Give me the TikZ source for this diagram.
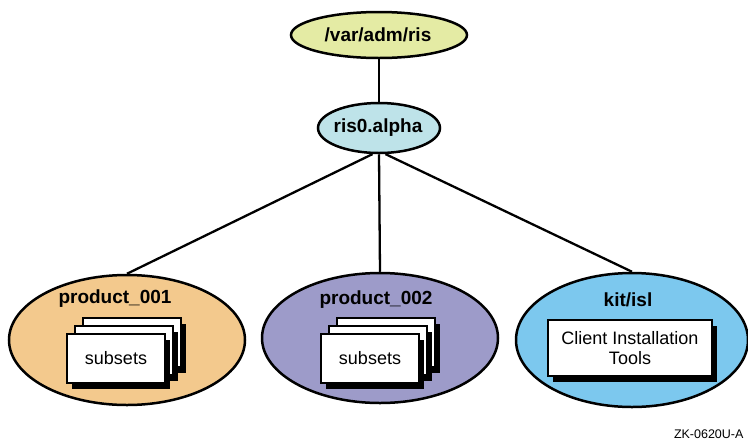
\documentclass[tikz,border=0pt]{standalone}
\usepackage{fontspec}
\setmainfont{Liberation Sans}
\usetikzlibrary{shapes.geometric,shadows}
\definecolor{varfill}{HTML}{E4EBA4}
\definecolor{risfill}{HTML}{BEE3E9}
\definecolor{prodone}{HTML}{F3C98D}
\definecolor{prodtwo}{HTML}{9D9BC9}
\definecolor{kitfill}{HTML}{7CC8EE}
\tikzset{
  dirnode/.style={ellipse, draw, line width=2.5pt, inner sep=0pt},
  dirlabel/.style={font=\fontsize{19}{21}\selectfont\bfseries},
  sheet/.style={draw, line width=1.2pt, fill=white, inner sep=0pt,
    minimum width=98pt, minimum height=49pt,
    font=\fontsize{18}{20}\selectfont,
    drop shadow={shadow xshift=5pt, shadow yshift=-6pt, opacity=1, fill=black}},
  link/.style={line width=2.3pt}
}
\begin{document}
\begin{tikzpicture}[x=1pt,y=-1pt]
    \useasboundingbox (0,0) rectangle (748,440);
    % directories
    \node[dirnode, fill=varfill, minimum width=176pt, minimum height=46pt] (var) at (379,35) {};
    \node[dirnode, fill=risfill, minimum width=122pt, minimum height=50pt] (ris) at (379,128) {};
    \node[dirnode, fill=prodone, minimum width=236pt, minimum height=130pt] (p1) at (127,340) {};
    \node[dirnode, fill=prodtwo, minimum width=236pt, minimum height=130pt] (p2) at (380,338) {};
    \node[dirnode, fill=kitfill, minimum width=232pt, minimum height=134pt] (kit) at (632,340) {};
    \node[dirlabel] (varlbl) at (378,35) {/var/adm/ris};
    \node[dirlabel] (rislbl) at (378,128) {ris0.alpha};
    \node[dirlabel] (p1lbl) at (115,299) {product\_001};
    \node[dirlabel] (p2lbl) at (376,300) {product\_002};
    \node[dirlabel] (kitlbl) at (628,300) {kit/isl};
    % connectors
    \draw[link] (var) -- (ris);
    \draw[link] (ris.-104) -- (p1.north);
    \draw[link] (ris.south) -- (p2.north);
    \draw[link] (ris.-76) -- (kit.north);
    % subsets
    \node[sheet] (p1c) at (132,342.5) {};
    \node[sheet] (p1b) at (124,350.5) {};
    \node[sheet] (p1a) at (116,358.5) {subsets};
    \node[sheet] (p2c) at (386,342.5) {};
    \node[sheet] (p2b) at (378,350.5) {};
    \node[sheet] (p2a) at (370,358.5) {subsets};
    \node[sheet, minimum width=164pt, minimum height=56pt, align=center] (tools) at (630,348) {Client Installation\\Tools};
    \node[font=\fontsize{12.5}{14}\selectfont, anchor=east] (fig) at (747,434) {ZK-0620U-A};
\end{tikzpicture}
\end{document}
